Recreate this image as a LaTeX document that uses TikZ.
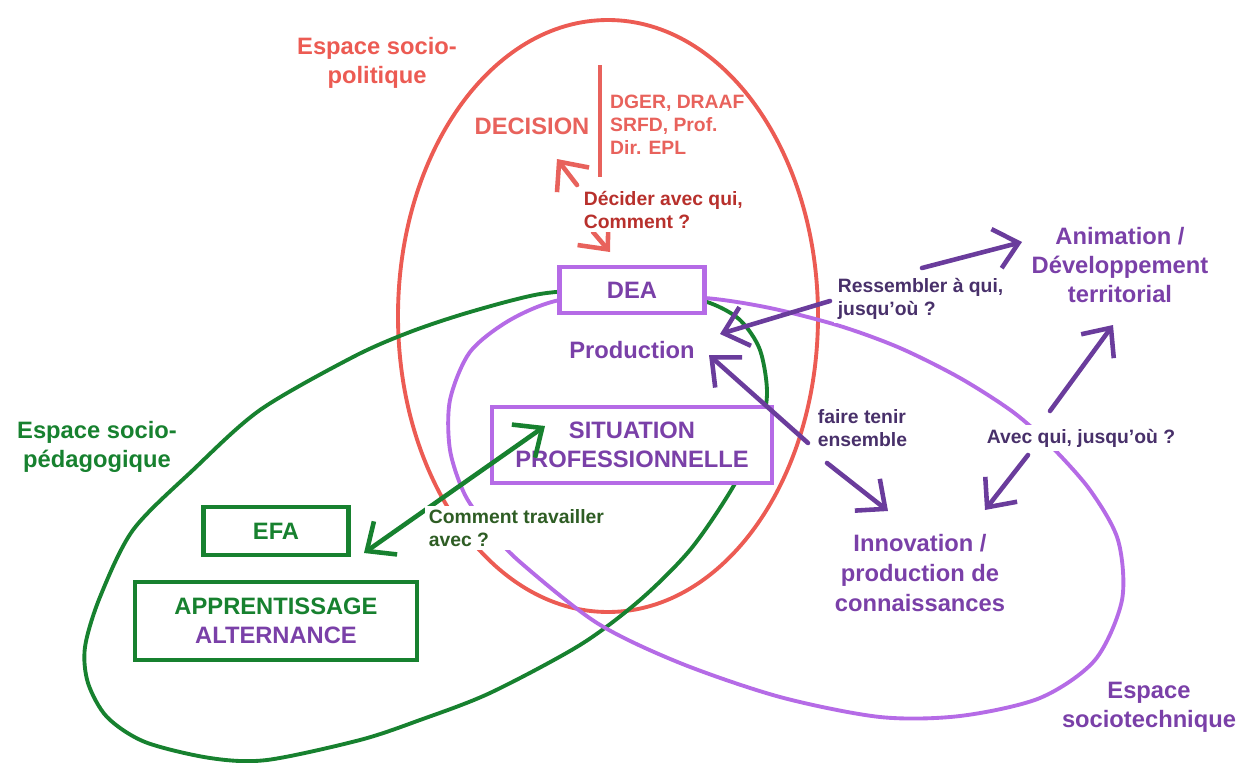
\documentclass[tikz,border=0pt]{standalone}
\usepackage{fontspec}
\setmainfont{Liberation Sans}
\usetikzlibrary{arrows.meta}
\definecolor{polred}{HTML}{EC5B53}
\definecolor{decred}{HTML}{E8625C}
\definecolor{askred}{HTML}{B8302C}
\definecolor{pedgreen}{HTML}{17812F}
\definecolor{askgreen}{HTML}{2E5D24}
\definecolor{techline}{HTML}{B56BE6}
\definecolor{techtext}{HTML}{7A40A8}
\definecolor{techarrow}{HTML}{6A3C9C}
\definecolor{asknavy}{HTML}{48306A}
\tikzset{
  bigtext/.style={font=\fontsize{13.5}{16.5}\selectfont\bfseries},
  smalltext/.style={font=\fontsize{11}{12.8}\selectfont\bfseries},
  spaceline/.style={line width=2.2pt},
  spacebox/.style={draw, line width=2.6pt, fill=white, bigtext, align=center},
  asklabel/.style={smalltext, fill=white, inner sep=2pt, align=left},
  askarrow/.style={line width=2.6pt, line cap=round, line join=round},
}

\begin{document}
\begin{tikzpicture}[x=0.2mm,y=-0.2mm,>={Straight Barb[length=13pt,width=23pt]}]
\useasboundingbox (0,0) rectangle (1241,763);
\draw[spaceline,polred] (608,316) ellipse [x radius=210, y radius=296];
\draw[spaceline,pedgreen] plot[smooth cycle] coordinates {(600,290) (540,294) (470,312) (410,332) (353,357) (260,410) (193,470) (133,530) (100,597) (85,647) (88,683) (107,717) (145,742) (210,758) (267,760) (360,740) (420,720) (490,693) (580,645) (640,600) (690,550) (730,492) (757,440) (767,395) (760,350) (740,320) (710,303) (665,292)};
\draw[spaceline,techline] plot[smooth cycle] coordinates {(632,297) (560,300) (510,320) (470,352) (450,400) (450,450) (465,495) (490,530) (520,562) (597,623) (680,663) (780,697) (880,717) (960,716) (1040,698) (1095,660) (1122,600) (1118,540) (1090,490) (1050,445) (1013,412) (960,378) (900,348) (840,326) (770,308) (705,298)};
\draw[spaceline,decred] (600,65) -- (600,177);

\node[spacebox,draw=techline,text=techtext,minimum width=29mm,minimum height=9.2mm] (dea) at (632,290) {DEA};
\node[spacebox,draw=techline,text=techtext,minimum width=56mm,minimum height=15.2mm] (situation) at (632,445) {SITUATION\\PROFESSIONNELLE};
\node[spacebox,draw=pedgreen,text=pedgreen,minimum width=29mm,minimum height=9.6mm] (efa) at (276,531) {EFA};
\node[spacebox,draw=pedgreen,minimum width=56.4mm,minimum height=15.6mm] (apprentissage) at (276,621) {{\color{pedgreen}APPRENTISSAGE}\\{\color{techtext}ALTERNANCE}};

\node[bigtext,text=polred,align=center] (espol) at (377,63) {Espace socio-\\politique};
\node[bigtext,text=decred] (decision) at (532,126) {DECISION};
\node[smalltext,text=decred,align=left,anchor=west,font=\fontsize{11}{13}\selectfont\bfseries] (acteurs) at (604,125) {DGER, DRAAF\\SRFD, Prof.\\Dir. EPL};
\node[bigtext,text=techtext] (production) at (632,350) {Production};
\node[bigtext,text=pedgreen,align=center] (espped) at (97,447) {Espace socio-\\pédagogique};
\node[bigtext,text=techtext,align=center] (animation) at (1120,265) {Animation /\\Développement\\territorial};
\node[bigtext,text=techtext,align=center,font=\fontsize{13.5}{17}\selectfont\bfseries] (innovation) at (920,573) {Innovation /\\production de\\connaissances};
\node[bigtext,text=techtext,align=center] (esptech) at (1149,707) {Espace\\sociotechnique};

\coordinate (decTip) at (557,159);
\coordinate (deaTip) at (610,252);
\coordinate (sitTip) at (545,426);
\coordinate (efaTip) at (364,553);
\coordinate (resDea) at (720,334);
\coordinate (resAnim) at (1022,242);
\coordinate (fteProd) at (709,355);
\coordinate (fteInno) at (888,511);
\coordinate (avqAnim) at (1113,325);
\coordinate (avqInno) at (985,510);

\draw[askarrow,decred,->] (577,185) -- (decTip);
\draw[askarrow,decred,->] (593,232) -- (deaTip);
\draw[askarrow,pedgreen,<->] (sitTip) -- (efaTip);
\draw[askarrow,techarrow,->] (830,301) -- (resDea);
\draw[askarrow,techarrow,->] (922,268) -- (resAnim);
\draw[askarrow,techarrow,->] (808,443) -- (fteProd);
\draw[askarrow,techarrow,->] (827,463) -- (fteInno);
\draw[askarrow,techarrow,->] (1050,411) -- (avqAnim);
\draw[askarrow,techarrow,->] (1028,455) -- (avqInno);

\node[asklabel,text=askred,anchor=west] (decider) at (580,210) {Décider avec qui,\\Comment ?};
\node[asklabel,text=askgreen,anchor=west] (comment) at (425,528) {Comment travailler\\avec ?};
\node[asklabel,text=asknavy,anchor=west] (ressembler) at (834,299) {Ressembler à qui,\\jusqu'où ?};
\node[asklabel,text=asknavy,anchor=west] (fairetenir) at (814,428) {faire tenir\\ensemble};
\node[asklabel,text=asknavy] (avecqui) at (1081,438) {Avec qui, jusqu'où ?};
\end{tikzpicture}
\end{document}
